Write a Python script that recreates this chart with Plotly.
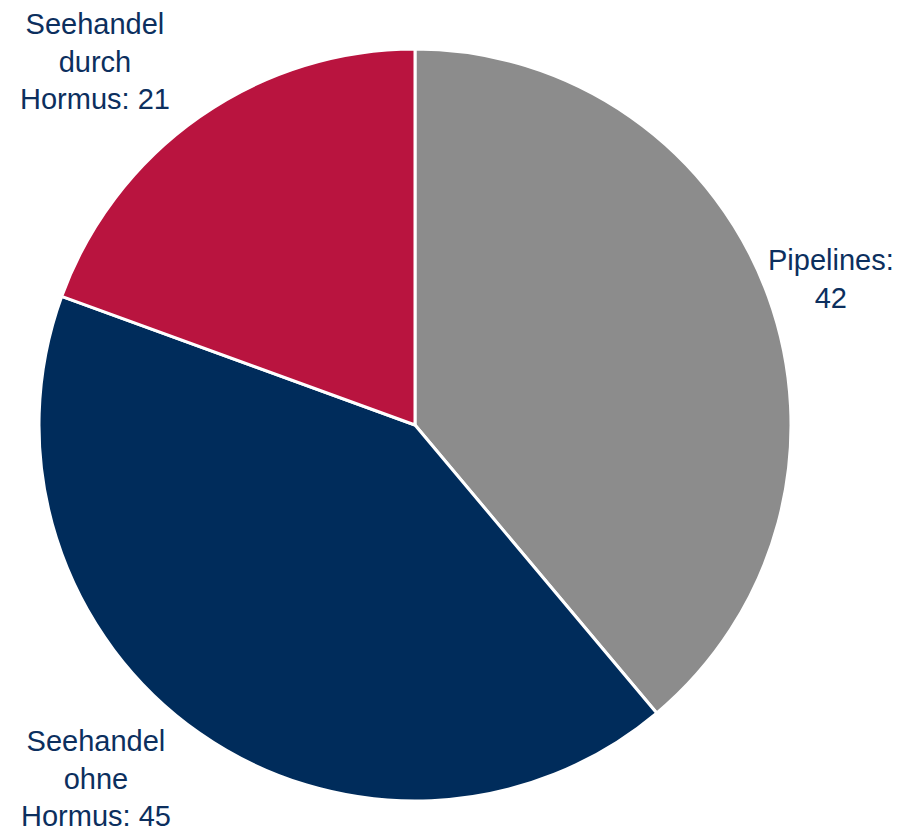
import plotly.graph_objects as go

categories = ["Pipelines", "Seehandel<br>ohne<br>Hormus", "Seehandel<br>durch<br>Hormus"]
values = [42, 45, 21]
colors = ["#8c8c8c", "#002c5b", "#b9143f"]

# page offset of the plot div (browser body margin)
OFF = 8
W, H = 907 - OFF, 832 - OFF

# label centres, in page pixels
label_px = [(831, 279), (96, 778), (95, 62)]

fig = go.Figure(go.Pie(
    labels=categories,
    values=values,
    sort=False,
    direction="clockwise",
    rotation=0,
    marker=dict(colors=colors, line=dict(color="white", width=3)),
    textinfo="none",
    hoverinfo="label+value",
    domain=dict(x=[(39 - OFF) / W, (791 - OFF) / W],
                y=[1 - (801 - OFF) / H, 1 - (49 - OFF) / H]),
    showlegend=False,
))

for cat, val, (px, py) in zip(categories, values, label_px):
    fig.add_annotation(
        x=(px - OFF) / W, y=1 - (py - OFF) / H, xref="paper", yref="paper",
        text=f"{cat}: {val}" if "<br>" in cat else f"{cat}:<br>{val}",
        showarrow=False, align="center",
        xanchor="center", yanchor="middle", borderpad=0,
        font=dict(family="Liberation Sans, Arial, sans-serif", size=29, color="#0c2f5e"),
    )

fig.update_layout(
    width=W, height=H,
    margin=dict(l=0, r=0, t=0, b=0),
    paper_bgcolor="white", plot_bgcolor="white",
)

fig.write_html("out.html")
